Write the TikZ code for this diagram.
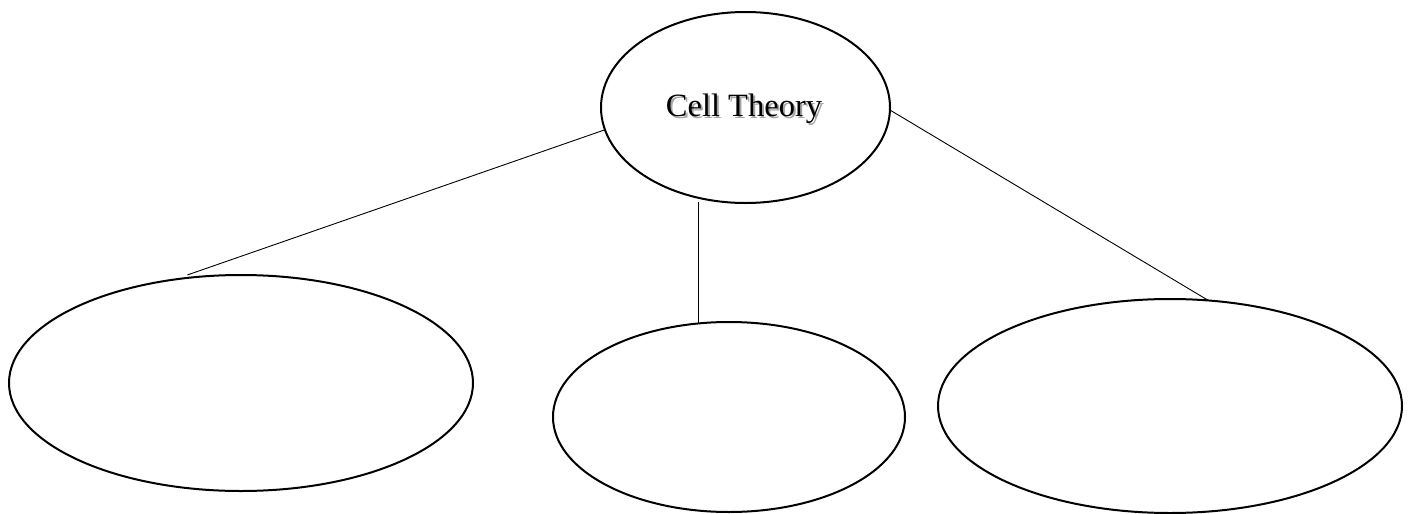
\documentclass[tikz,border=0pt]{standalone}
\usepackage{fontspec}
\setmainfont{Liberation Serif}
\usepackage{tikz}
\usetikzlibrary{shapes.geometric,positioning}

\tikzset{
	bubble/.style={draw,ellipse,line width=2pt,inner sep=0pt,outer sep=0pt},
	link/.style={draw,line width=0.9pt}
}

\begin{document}
\begin{tikzpicture}[x=1pt,y=-1pt]
	\def\fs{32.5}
	\useasboundingbox[fill=white] (0,0) rectangle (1411,514);
	% the four bubbles, sizes in pixels of the sheet
	\node[bubble,minimum width=289pt,minimum height=191pt] (theory) at (745.5,107.5) {};
	\node[bubble,minimum width=464pt,minimum height=216pt] (left) at (241,383) {};
	\node[bubble,minimum width=352pt,minimum height=190pt] (middle) at (729,417) {};
	\node[bubble,minimum width=464pt,minimum height=214pt] (right) at (1170,406) {};
	% title, with its soft shadow
	\node[text=black!35,font=\fontsize{\fs}{\fs}\selectfont] (titleshadow) at (746,111) {Cell Theory};
	\node[font=\fontsize{\fs}{\fs}\selectfont] (title) at (744,109) {Cell Theory};
	% connectors
	\draw[link] (theory.189.3) -- ([yshift=3pt]left.117.4);
	\draw[link,shorten <=5pt] (theory.241.7 -| middle.108.9) -- (middle.108.9);
	\draw[link] (theory.-1) -- (right.70);
\end{tikzpicture}
\end{document}
